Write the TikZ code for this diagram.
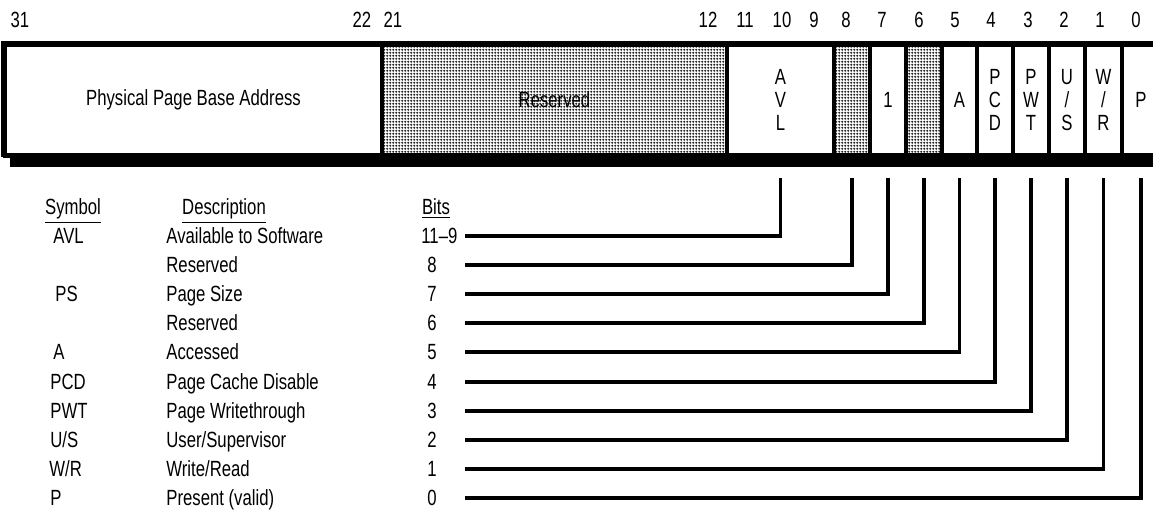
\documentclass[tikz,border=0pt]{standalone}
\usepackage{fontspec}
\setmainfont{Liberation Sans}[FakeStretch=0.76]
\usetikzlibrary{patterns}

% fine dot screen for the reserved fields
\pgfdeclarepatternformonly{finedots}{\pgfqpoint{0pt}{0pt}}{\pgfqpoint{1.6pt}{1.6pt}}{\pgfqpoint{1.6pt}{1.6pt}}{%
  \pgfpathcircle{\pgfqpoint{0.8pt}{0.8pt}}{0.68pt}\pgfusepath{fill}}

\begin{document}
\begin{tikzpicture}[x=0.5pt, y=-0.5pt,
        font=\fontsize{11pt}{11.5pt}\selectfont,
        field/.style={draw, line width=1.6pt, minimum height=55pt, inner sep=0pt, align=center},
        rsvd/.style={field, pattern=finedots, pattern color=black!85},
        bitnum/.style={inner sep=0pt, text height=7.8pt, text depth=0pt},
        legend/.style={anchor=west, inner sep=0pt, text height=7.8pt, text depth=0pt},
        head/.style={inner sep=0pt, text height=7.8pt, text depth=0pt},
        line/.style={draw, line width=1.6pt}]

        \useasboundingbox (0,0) rectangle (1153,511);
        \clip (0,0) rectangle (1153,511);

        % shadow under the register
        \fill (3,153) rectangle (1160,158);
        \fill (10,153) rectangle (1160,167);

        % register fields
        \node [field, minimum width=188.5pt] (base) at (193.5,100) {Physical Page Base Address};
        \node [rsvd, minimum width=172.5pt] (res) at (554.5,100) {Reserved};
        \node [field, minimum width=53.5pt] (favl) at (780.5,100) {A\\V\\L};
        \node [rsvd, minimum width=18pt] (f8) at (852,100) {};
        \node [field, minimum width=18pt] (f7) at (888,100) {1};
        \node [rsvd, minimum width=18pt] (f6) at (924,100) {};
        \node [field, minimum width=17.5pt] (f5) at (959.5,100) {A};
        \node [field, minimum width=18pt] (f4) at (995,100) {P\\C\\D};
        \node [field, minimum width=18pt] (f3) at (1031,100) {P\\W\\T};
        \node [field, minimum width=18pt] (f2) at (1067,100) {U\\/\\S};
        \node [field, minimum width=18.5pt] (f1) at (1103.5,100) {W\\/\\R};
        \node [field, minimum width=19pt] (f0) at (1141,100) {P};
        \draw [line width=2pt] (base.south west) |- (f0.north east);

        % bit numbers
        \node [bitnum] (n31) at (20,20) {31};
        \node [bitnum] (n22) at (362,20) {22};
        \node [bitnum] (n21) at (393,20) {21};
        \node [bitnum] (n12) at (708,20) {12};
        \node [bitnum] (n11) at (745,20) {11};
        \node [bitnum] (n10) at (782,20) {10};
        \node [bitnum] (n9) at (814,20) {9};
        \node [bitnum] (n8) at (846,20) {8};
        \node [bitnum] (n7) at (882,20) {7};
        \node [bitnum] (n6) at (919,20) {6};
        \node [bitnum] (n5) at (955,20) {5};
        \node [bitnum] (n4) at (991,20) {4};
        \node [bitnum] (n3) at (1028,20) {3};
        \node [bitnum] (n2) at (1064,20) {2};
        \node [bitnum] (n1) at (1100,20) {1};
        \node [bitnum] (n0) at (1136,20) {0};

        % legend
        \node [head] (hsym) at (73,207) {\underline{Symbol}};
        \node [head] (hdesc) at (224,207) {\underline{Description}};
        \node [head] (hbits) at (436,207) {\underline{Bits}};

        \node [legend] (s0) at (53,236) {AVL};
        \node [legend] (d0) at (166,236) {Available to Software};
        \node [legend] (b0) at (421,236) {11--9};
        \node [legend] (d1) at (166,265) {Reserved};
        \node [legend] (b1) at (427,265) {8};
        \node [legend] (s2) at (55,294) {PS};
        \node [legend] (d2) at (166,294) {Page Size};
        \node [legend] (b2) at (427,294) {7};
        \node [legend] (d3) at (166,323) {Reserved};
        \node [legend] (b3) at (427,323) {6};
        \node [legend] (s4) at (53,352) {A};
        \node [legend] (d4) at (166,352) {Accessed};
        \node [legend] (b4) at (427,352) {5};
        \node [legend] (s5) at (50,382) {PCD};
        \node [legend] (d5) at (166,382) {Page Cache Disable};
        \node [legend] (b5) at (427,382) {4};
        \node [legend] (s6) at (50,411) {PWT};
        \node [legend] (d6) at (166,411) {Page Writethrough};
        \node [legend] (b6) at (427,411) {3};
        \node [legend] (s7) at (50,440) {U/S};
        \node [legend] (d7) at (166,440) {User/Supervisor};
        \node [legend] (b7) at (427,440) {2};
        \node [legend] (s8) at (49,469) {W/R};
        \node [legend] (d8) at (166,469) {Write/Read};
        \node [legend] (b8) at (427,469) {1};
        \node [legend] (s9) at (50,498) {P};
        \node [legend] (d9) at (166,498) {Present (valid)};
        \node [legend] (b9) at (427,498) {0};

        % leader lines
        \coordinate (lx) at (465,0);
        \coordinate (tap) at (0,178);
        \path [line] (b0.east -| lx) -| (favl.south |- tap);
        \path [line] (b1.east -| lx) -| (f8.south |- tap);
        \path [line] (b2.east -| lx) -| (f7.south |- tap);
        \path [line] (b3.east -| lx) -| (f6.south |- tap);
        \path [line] (b4.east -| lx) -| (f5.south |- tap);
        \path [line] (b5.east -| lx) -| (f4.south |- tap);
        \path [line] (b6.east -| lx) -| (f3.south |- tap);
        \path [line] (b7.east -| lx) -| (f2.south |- tap);
        \path [line] (b8.east -| lx) -| (f1.south |- tap);
        \path [line] (b9.east -| lx) -| (f0.south |- tap);

    \end{tikzpicture}
\end{document}
